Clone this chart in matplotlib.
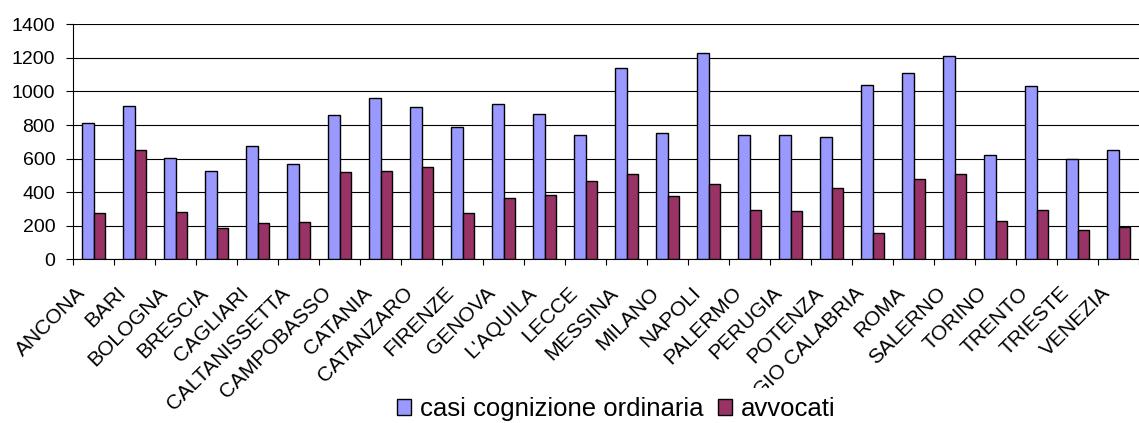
import numpy as np
import matplotlib
matplotlib.use("Agg")
import matplotlib.pyplot as plt
from matplotlib.transforms import ScaledTranslation, blended_transform_factory

plt.rcParams['font.family'] = ['Liberation Sans', 'DejaVu Sans']

cities = ["ANCONA", "BARI", "BOLOGNA", "BRESCIA", "CAGLIARI", "CALTANISSETTA",
          "CAMPOBASSO", "CATANIA", "CATANZARO", "FIRENZE", "GENOVA", "L'AQUILA",
          "LECCE", "MESSINA", "MILANO", "NAPOLI", "PALERMO", "PERUGIA", "POTENZA",
          "REGGIO CALABRIA", "ROMA", "SALERNO", "TORINO", "TRENTO", "TRIESTE", "VENEZIA"]
casi = [810, 913, 603, 528, 677, 568, 858, 963, 905, 790, 927, 866, 740, 1138,
        751, 1231, 742, 742, 727, 1038, 1110, 1209, 619, 1031, 598, 653]
avvocati = [274, 653, 282, 185, 218, 224, 522, 526, 548, 278, 363, 383, 466, 510,
            379, 450, 294, 290, 427, 157, 480, 508, 226, 292, 176, 194]
y_ticks = [0, 200, 400, 600, 800, 1000, 1200, 1400]

fig = plt.figure(figsize=(11.39, 4.23), dpi=100)
ax = fig.add_axes([73 / 1139, 1 - 259.3 / 423, 1 - 73 / 1139, (259.3 - 24.3) / 423])

x = np.arange(len(cities))
w = 0.29
ax.bar(x - w / 2, casi, w, color="#9999FF", edgecolor="black", linewidth=1.0,
       label="casi cognizione ordinaria", zorder=3)
ax.bar(x + w / 2, avvocati, w, color="#993366", edgecolor="black", linewidth=1.0,
       label="avvocati", zorder=3)

ax.set_ylim(0, 1400)
ax.set_xlim(-0.5, (1139 - 73) / 41.5 - 0.5)
ax.set_yticks(y_ticks)
ax.tick_params(axis='y', labelsize=14, length=4.8, width=0.8, pad=8, direction='out')
ax.set_xticks(np.arange(len(cities) + 1) - 0.5)
ax.set_xticklabels([])
ax.tick_params(axis='x', length=4.5, width=0.8, direction='out', colors='black')
ax.yaxis.grid(True, color='black', linewidth=0.8, zorder=0)
ax.set_axisbelow(True)
for s in ['top', 'right']:
    ax.spines[s].set_visible(False)
for s in ['left', 'bottom']:
    ax.spines[s].set_linewidth(0.8)

# category labels, rotated like Excel
base = blended_transform_factory(ax.transData, ax.transAxes)
off = ScaledTranslation(-18 / 100, -24 / 100, fig.dpi_scale_trans)
for xi, name in zip(x, cities):
    ax.text(xi, 0, name, transform=base + off, rotation=45, ha='right', va='top',
            rotation_mode='anchor', fontsize=15, clip_on=False)

# opaque legend box hides the part of the labels running under it
leg = fig.legend(loc='center', bbox_to_anchor=(0.541, 0.033), ncol=2, frameon=True,
                 facecolor='white', edgecolor='none', framealpha=1, fancybox=False,
                 fontsize=18.5, handlelength=0.55, handleheight=0.55, handletextpad=0.35,
                 columnspacing=0.55, borderpad=0.35)
leg.set_zorder(10)

fig.savefig("out.png", dpi=100)
